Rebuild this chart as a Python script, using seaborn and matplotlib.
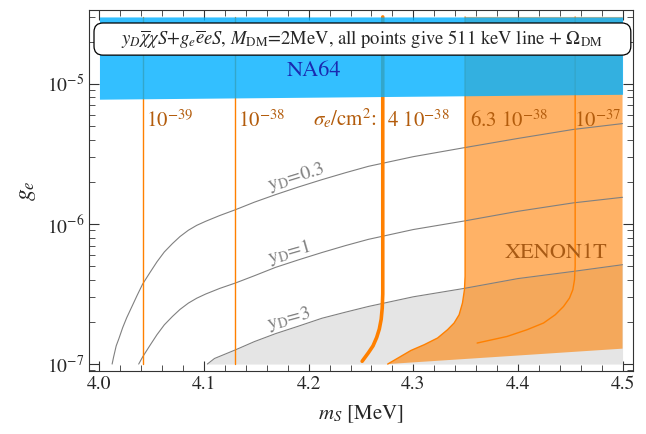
import numpy as np
import pandas as pd
import matplotlib
matplotlib.use("Agg")
import matplotlib.pyplot as plt
import seaborn as sns
from matplotlib.patches import FancyBboxPatch
from matplotlib.ticker import MultipleLocator, LogLocator, NullFormatter, FixedLocator

# --- data (g_e given as log10) ---
# y_D contours
ms_y03 = [4.0121, 4.0135, 4.0160, 4.0185, 4.0222, 4.0260, 4.0310, 4.0360, 4.0412, 4.0480, 4.0550, 4.0620,
          4.0698, 4.0770, 4.0850, 4.0930, 4.1016, 4.1150, 4.1302, 4.1480, 4.1683, 4.1900, 4.2127, 4.2350,
          4.2571, 4.3000, 4.3479, 4.4000, 4.4527, 4.5]
lg_y03 = [-7.00, -6.95, -6.87, -6.82, -6.74, -6.67, -6.59, -6.51, -6.43, -6.35, -6.27, -6.20,
          -6.14, -6.09, -6.045, -6.01, -5.981, -5.94, -5.898, -5.845, -5.791, -5.737, -5.684, -5.635,
          -5.589, -5.52, -5.457, -5.39, -5.326, -5.284]
ms_y1 = [4.0375, 4.0412, 4.0480, 4.0550, 4.0620, 4.0698, 4.0770, 4.0850, 4.0930, 4.1016, 4.1150, 4.1302,
         4.1480, 4.1683, 4.1900, 4.2127, 4.2350, 4.2571, 4.3000, 4.3479, 4.4000, 4.4527, 4.5]
lg_y1 = [-7.00, -6.95, -6.87, -6.79, -6.72, -6.66, -6.61, -6.565, -6.53, -6.50, -6.46, -6.421,
         -6.37, -6.31, -6.257, -6.204, -6.155, -6.11, -6.04, -5.98, -5.91, -5.85, -5.81]
ms_y3 = [4.1031, 4.1100, 4.1302, 4.1480, 4.1683, 4.1900, 4.2127, 4.2350, 4.2571, 4.3000, 4.3479, 4.4000,
         4.4527, 4.5]
lg_y3 = [-7.00, -6.96, -6.898, -6.84, -6.783, -6.73, -6.673, -6.63, -6.589, -6.52, -6.461, -6.39,
         -6.339, -6.291]

# sigma_e contours
ms_s39 = [4.0412, 4.0412]
lg_s39 = [-7.0, -4.523]
ms_s38 = [4.1295, 4.1295]
lg_s38 = [-7.0, -4.523]
ms_s4e38 = [4.2708, 4.2708, 4.2703, 4.2693, 4.2675, 4.2650, 4.2615, 4.2570, 4.2511]
lg_s4e38 = [-4.523, -6.50, -6.60, -6.68, -6.75, -6.81, -6.87, -6.92, -6.98]
ms_s63e38 = [4.3495, 4.3495, 4.3489, 4.3470, 4.3438, 4.3390, 4.3327, 4.3232, 4.3104, 4.2977, 4.2755]
lg_s63e38 = [-4.523, -6.374, -6.469, -6.564, -6.648, -6.707, -6.755, -6.814, -6.862, -6.903, -7.0]
ms_s37 = [4.4547, 4.4547, 4.4541, 4.4525, 4.4493, 4.4436, 4.4357, 4.4245, 4.4087, 4.3896, 4.3610]
lg_s37 = [-4.523, -6.303, -6.398, -6.469, -6.529, -6.589, -6.648, -6.707, -6.755, -6.803, -6.85]

# XENON1T lower edge, NA64 band
ms_xen_low = [4.2755, 4.5]
lg_xen_low = [-7.0, -6.89]
ms_na64 = [4.0, 4.5]
lg_na64_low = [-5.11, -5.075]
lg_top = -4.523
lg_bottom = -7.0

sig_labels = ["$10^{-39}$", "$10^{-38}$", "4 $10^{-38}$", "6.3 $10^{-38}$", "$10^{-37}$"]
sig_label_ms = [4.0449, 4.1326, 4.2748, 4.3540, 4.4535]

orange = (1.0, 0.5, 0.0)
lab_orange = "#b35c0c"

sns.set_style("ticks")
plt.rcParams['font.family'] = ['STIXGeneral', 'DejaVu Serif']
plt.rcParams['mathtext.fontset'] = 'stix'

fig = plt.figure(figsize=(6.46, 4.34), dpi=100)
ax = fig.add_axes([89 / 646, 1 - 371 / 434, 544 / 646, 361 / 434])
ax.set_yscale('log')

p = lambda v: np.power(10.0, np.array(v))

# gray region (below y_D = 3)
ax.fill_between(ms_y3, p(lg_y3), 10 ** lg_bottom, color="#e5e5e5", lw=0, zorder=1)

# XENON1T region
xen_x = ms_s63e38 + [4.5, 4.5]
xen_y = lg_s63e38 + [lg_xen_low[1], lg_top]
ax.fill(xen_x, p(xen_y), color=orange, alpha=0.6, lw=0, zorder=2)

# y_D curves
curves = pd.concat([
    pd.DataFrame({'ms': ms_y03, 'ge': p(lg_y03), 'yD': '0.3'}),
    pd.DataFrame({'ms': ms_y1, 'ge': p(lg_y1), 'yD': '1'}),
    pd.DataFrame({'ms': ms_y3, 'ge': p(lg_y3), 'yD': '3'}),
])
sns.lineplot(data=curves, x='ms', y='ge', hue='yD', estimator=None, sort=False,
             palette=['#808080'] * 3, lw=0.8, legend=False, ax=ax, zorder=3)

# sigma_e contours
thin = [(ms_s39, lg_s39), (ms_s38, lg_s38), (ms_s63e38, lg_s63e38), (ms_s37, lg_s37)]
for xs, ls in thin:
    sns.lineplot(x=xs, y=p(ls), sort=False, estimator=None, color=orange, lw=1.0, ax=ax, zorder=4)
sns.lineplot(x=ms_s4e38, y=p(lg_s4e38), sort=False, estimator=None, color=orange, lw=2.6, ax=ax, zorder=4)

# NA64 band
ax.fill_between(ms_na64, p(lg_na64_low), 10 ** lg_top, color=(0.0, 0.69, 1.0), alpha=0.8, lw=0, zorder=5)

# labels
for txt, xm in zip(sig_labels, sig_label_ms):
    ax.text(xm, 10 ** -5.305, txt, color=lab_orange, fontsize=15, ha='left', va='baseline', zorder=6)
ax.text(4.2653, 10 ** -5.305, r"$\sigma_e/{\rm cm}^2$:", color=lab_orange, fontsize=15,
        ha='right', va='baseline', zorder=6)
ax.text(4.205, 10 ** -4.912, "NA64", color="#1a2ab0", fontsize=16, ha='center', va='center', zorder=6)
ax.text(4.436, 10 ** -6.205, "XENON1T", color="#a85a14", fontsize=16, ha='center', va='center', zorder=6)
ax.text(4.188, 10 ** -5.669, r"y$_{\rm D}$=0.3", color="#808080", fontsize=14,
        ha='center', va='center', rotation=17, zorder=6)
ax.text(4.181, 10 ** -6.205, r"y$_{\rm D}$=1", color="#808080", fontsize=14,
        ha='center', va='center', rotation=16, zorder=6)
ax.text(4.181, 10 ** -6.676, r"y$_{\rm D}$=3", color="#808080", fontsize=14,
        ha='center', va='center', rotation=15, zorder=6)

# title box
box = FancyBboxPatch((0.0092, 0.875), 0.9868, 0.089, boxstyle='round,pad=0,rounding_size=0.0165',
                     mutation_aspect=1.5, transform=ax.transAxes, fc='white', ec='black', lw=0.9, zorder=7)
ax.add_patch(box)
ax.text(0.502, 0.921, r"$y_D\overline{\chi}\chi S$+$g_e\overline{e}eS$, $M_{\rm DM}$=2MeV, all points give 511 keV line + $\Omega_{\rm DM}$",
        transform=ax.transAxes, ha='center', va='center', fontsize=13.4, zorder=8)

# axes
ax.set_xlim(3.99, 4.51)
ax.set_ylim(10 ** -7.0495, 10 ** -4.4735)
ax.xaxis.set_major_locator(FixedLocator([4.0, 4.1, 4.2, 4.3, 4.4, 4.5]))
ax.set_xticklabels(["4.0", "4.1", "4.2", "4.3", "4.4", "4.5"])
ax.xaxis.set_minor_locator(MultipleLocator(0.02))
ax.yaxis.set_major_locator(FixedLocator([1e-7, 1e-6, 1e-5]))
ax.yaxis.set_minor_locator(LogLocator(base=10, subs=np.arange(2, 10)))
ax.yaxis.set_minor_formatter(NullFormatter())
ax.tick_params(which='both', direction='in', top=True, right=True, labelsize=14, color='#333333')
ax.tick_params(which='major', length=7, width=0.8)
ax.tick_params(which='minor', length=4, width=0.6)
for s in ax.spines.values():
    s.set_color('#333333')
    s.set_linewidth(0.8)

ax.set_xlabel("$m_S$ [MeV]", fontsize=15, labelpad=7.5)
ax.set_ylabel("$g_e$", fontsize=17)
ax.yaxis.set_label_coords(-0.094, 0.50)

plt.savefig("out.png", dpi=100)
